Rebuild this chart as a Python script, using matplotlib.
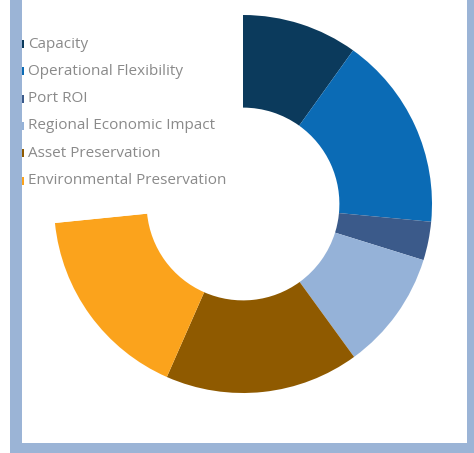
import matplotlib.pyplot as plt
from matplotlib.patches import Rectangle

# data
labels = ["Capacity", "Operational Flexibility", "Port ROI",
          "Regional Economic Impact", "Asset Preservation", "Environmental Preservation"]
values = [9.9, 16.6, 3.3, 10.2, 16.6, 16.8]
blank = 26.6  # empty part of the ring
colors = ["#0b3a5c", "#0b6bb5", "#3b5a8a", "#95b2d8", "#8f5a00", "#fba31c"]

W, H = 474, 453
fig = plt.figure(figsize=(W / 100, H / 100), dpi=100)
fig.patch.set_facecolor("white")

# axes placed so the ring center is at (243, 204) px, outer radius 189 px
cx, cy, r = 243, 204, 189
ax = fig.add_axes([(cx - r) / W, 1 - (cy + r) / H, 2 * r / W, 2 * r / H])
wedges, _ = ax.pie(values + [blank], colors=colors + ["white"], startangle=90,
                   counterclock=False, radius=1.0,
                   wedgeprops=dict(width=0.49, edgecolor="none"))
ax.set_xlim(-1, 1)
ax.set_ylim(-1, 1)
ax.set_aspect("auto")
ax.axis("off")

# legend (markers mostly hidden under the frame)
y0, dy = 44, 27.3
for i, (lab, col) in enumerate(zip(labels, colors)):
    y = y0 + i * dy
    fig.add_artist(Rectangle((14 / W, 1 - (y + 4) / H), 10 / W, 8 / H,
                             transform=fig.transFigure, facecolor=col,
                             edgecolor="none", zorder=5))
    fig.text(28 / W, 1 - y / H, lab, fontsize=11, color="#8a8a8a",
             family="Open Sans", va="center", ha="left", zorder=5)

# light blue frame
frame = "#9bb4d6"
fig.add_artist(Rectangle((10 / W, 0), 12 / W, 1, transform=fig.transFigure,
                         facecolor=frame, edgecolor="none", zorder=10))
fig.add_artist(Rectangle((467 / W, 0), 7 / W, 1, transform=fig.transFigure,
                         facecolor=frame, edgecolor="none", zorder=10))
fig.add_artist(Rectangle((10 / W, 0), 464 / W, 10 / H, transform=fig.transFigure,
                         facecolor=frame, edgecolor="none", zorder=10))

fig.savefig("out.png", dpi=100, facecolor="white")
